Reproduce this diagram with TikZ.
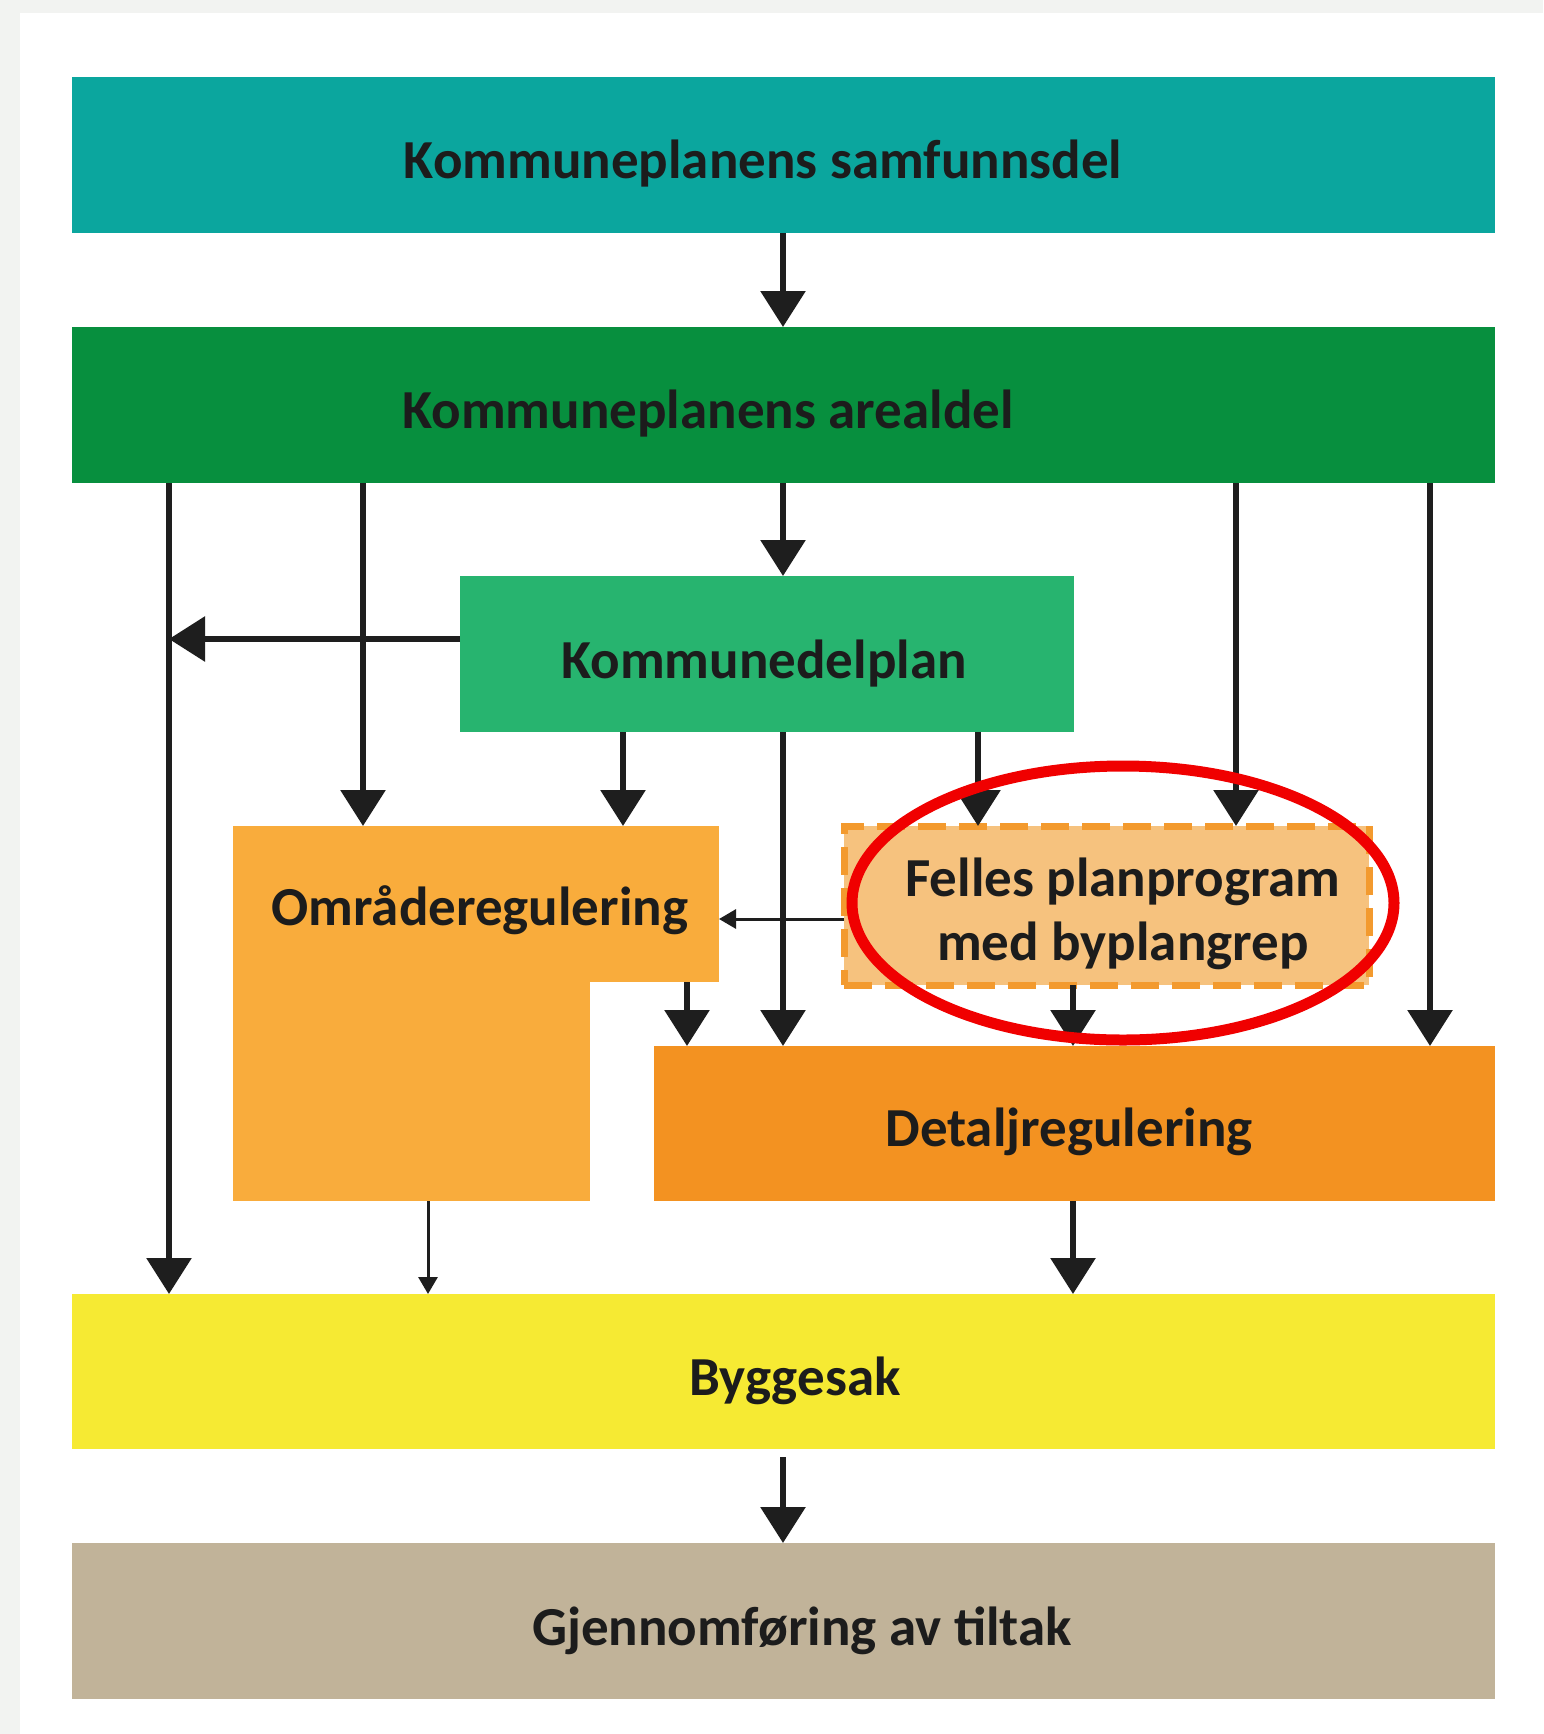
\documentclass[tikz,border=0pt]{standalone}
\usepackage{fontspec}
\setmainfont{Carlito}
\usetikzlibrary{arrows.meta}
\definecolor{bgc}{HTML}{F2F3F1}
\definecolor{tealc}{HTML}{0BA69E}
\definecolor{arealc}{HTML}{078F3E}
\definecolor{kdpc}{HTML}{27B46F}
\definecolor{omrc}{HTML}{F9AC3C}
\definecolor{fellesfill}{HTML}{F6C27E}
\definecolor{fellesline}{HTML}{F39A2E}
\definecolor{detaljc}{HTML}{F39221}
\definecolor{byggc}{HTML}{F6EA33}
\definecolor{gjenc}{HTML}{C1B399}
\definecolor{arrc}{HTML}{1E1E1E}
\definecolor{txt}{HTML}{1C1C1C}
\definecolor{ringc}{HTML}{F00000}
\begin{document}
\begin{tikzpicture}[x=1pt,y=-1pt,
  box/.style={draw=none, inner sep=0pt, outer sep=0pt, anchor=north west},
  lbl/.style={anchor=base, inner sep=0pt, font=\fontsize{55}{64}\selectfont\bfseries, text=txt},
  arr/.style={draw=arrc, line width=6pt, -{Triangle[width=44pt,length=36pt]}},
  thinarr/.style={draw=arrc, line width=3pt, -{Triangle[width=19pt,length=17pt]}}]
\useasboundingbox (0,0) rectangle (1543,1734);
\fill[bgc] (0,0) rectangle (1543,1734);
\fill[white] (20,13) rectangle (1543,1734);

% boxes
\node[box, fill=tealc, minimum width=1423pt, minimum height=156pt] (top) at (72,77) {};
\node[box, fill=arealc, minimum width=1423pt, minimum height=156pt] (areal) at (72,327) {};
\node[box, fill=kdpc, minimum width=614pt, minimum height=156pt] (kdp) at (460,576) {};
\node[box, fill=omrc, minimum width=486pt, minimum height=156pt] (omrTop) at (233,826) {};
\node[box, fill=omrc, minimum width=357pt, minimum height=221pt] (omrBot) at (233,980) {};
\node[box, fill=fellesfill, draw=fellesline, line width=7pt, dash pattern=on 28pt off 13pt, minimum width=525pt, minimum height=159pt] (felles) at (844,826) {};
\node[box, fill=detaljc, minimum width=841pt, minimum height=155pt] (detalj) at (654,1046) {};
\node[box, fill=byggc, minimum width=1423pt, minimum height=155pt] (bygg) at (72,1294) {};
\node[box, fill=gjenc, minimum width=1423pt, minimum height=156pt] (gjen) at (72,1543) {};

% labels
\node[lbl] (tTop) at (763,178) {Kommuneplanens samfunnsdel};
\node[lbl] (tAreal) at (708,428) {Kommuneplanens arealdel};
\node[lbl] (tKdp) at (764,678) {Kommunedelplan};
\node[lbl] (tOmr) at (480,925) {Områderegulering};
\node[lbl] (tFel1) at (1123,896) {Felles planprogram};
\node[lbl] (tFel2) at (1123,960) {med byplangrep};
\node[lbl] (tDet) at (1069,1146) {Detaljregulering};
\node[lbl] (tByg) at (795,1395) {Byggesak};
\node[lbl] (tGje) at (802,1645) {Gjennomføring av tiltak};

% x positions of connectors
\coordinate (xA) at (169,0);
\coordinate (xB) at (363,0);
\coordinate (xC) at (623,0);
\coordinate (xD) at (783,0);
\coordinate (xE) at (978,0);
\coordinate (xF) at (1236,0);
\coordinate (xG) at (1430,0);
\coordinate (xH) at (687,0);
\coordinate (xI) at (1073,0);
\coordinate (xJ) at (428,0);
\coordinate (yK) at (0,639);
\coordinate (yL) at (0,919);

% connectors
\draw[arr] (top.south -| xD) -- (areal.north -| xD);
\draw[arr] (areal.south -| xD) -- (kdp.north -| xD);
\draw[arr] (areal.south -| xA) -- (bygg.north -| xA);
\draw[arr] (kdp.west |- yK) -- (xA |- yK);
\draw[arr] (areal.south -| xB) -- (omrTop.north -| xB);
\draw[arr] (kdp.south -| xC) -- (omrTop.north -| xC);
\draw[arr] (kdp.south -| xD) -- (detalj.north -| xD);
\draw[arr] (kdp.south -| xE) -- (felles.north -| xE);
\draw[arr] (areal.south -| xF) -- (felles.north -| xF);
\draw[arr] (areal.south -| xG) -- (detalj.north -| xG);
\draw[thinarr] (felles.west |- yL) -- (omrTop.east |- yL);
\draw[arr] (omrTop.south -| xH) -- (detalj.north -| xH);
\draw[arr] (felles.south -| xI) -- (detalj.north -| xI);
\draw[thinarr] (omrBot.south -| xJ) -- (bygg.north -| xJ);
\draw[arr] (detalj.south -| xI) -- (bygg.north -| xI);
\draw[arr, shorten <=8pt] (bygg.south -| xD) -- (gjen.north -| xD);

% red ring
\draw[ringc, line width=11pt] (1123,903) ellipse [x radius=271pt, y radius=137pt];
\end{tikzpicture}
\end{document}
